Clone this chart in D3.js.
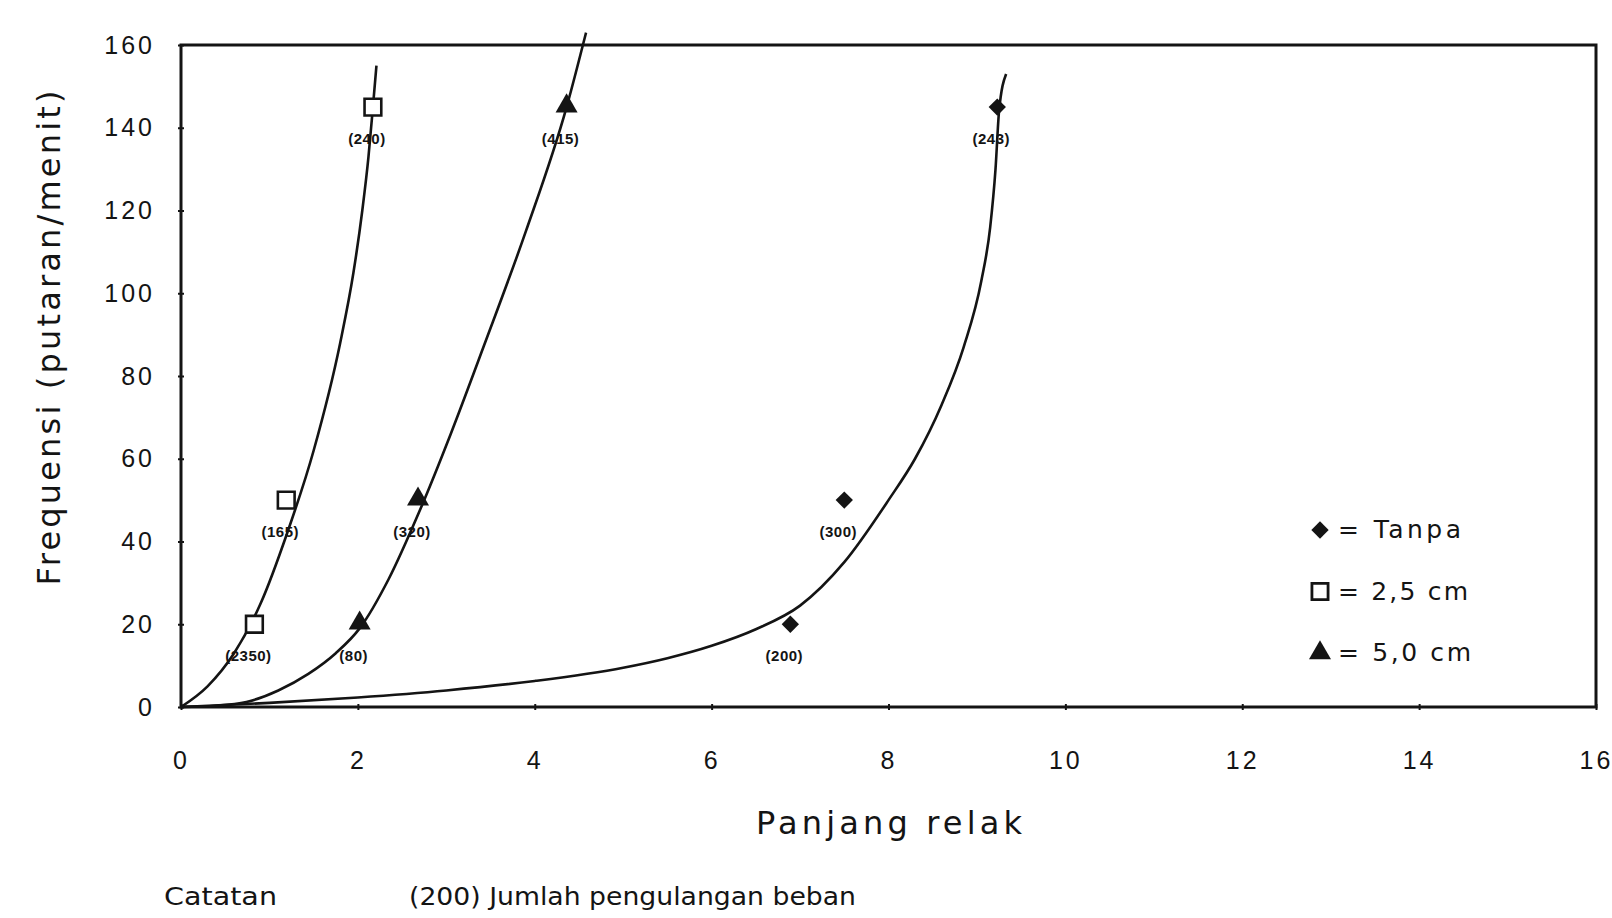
<!DOCTYPE html>
<html>
<head>
<meta charset="utf-8">
<script src="https://cdnjs.cloudflare.com/ajax/libs/d3/7.8.5/d3.min.js"></script>
<style>
    body { margin: 0; background: #fff; }
    text { fill: #141414; }
</style>
</head>
<body>
<div id="chart"></div>
<script>
// tick values on both axes
const xTicks = [0, 2, 4, 6, 8, 10, 12, 14, 16];
const yTicks = [0, 20, 40, 60, 80, 100, 120, 140, 160];

// measured points (x = panjang retak, y = frekuensi) and their labels
const tanpaX = [6.89, 7.5, 9.23];
const tanpaY = [20, 50, 145];
const tanpaLabels = ["(200)", "(300)", "(243)"];

const cm25X = [0.83, 1.19, 2.17];
const cm25Y = [20, 50, 145];
const cm25Labels = ["(2350)", "(165)", "(240)"];

const cm50X = [2.02, 2.68, 4.36];
const cm50Y = [20, 50, 145];
const cm50Labels = ["(80)", "(320)", "(415)"];

// trend curves
const tanpaCurveX = [0, 1, 2, 3, 4, 5, 5.5, 6, 6.5, 7, 7.5, 8, 8.3, 8.6, 8.85, 9.05, 9.15, 9.21, 9.25, 9.33];
const tanpaCurveY = [0, 1, 2.3, 4, 6.3, 9.5, 11.8, 14.8, 18.8, 24.5, 35, 50, 60, 73, 87, 103, 116, 130, 144, 153];

const cm25CurveX = [0, 0.3, 0.6, 0.9, 1.2, 1.5, 1.8, 1.95, 2.05, 2.12, 2.17, 2.21];
const cm25CurveY = [0, 5, 13, 25, 42, 62, 88, 105, 120, 133, 145, 155];

const cm50CurveX = [0, 0.4, 0.74, 1.1, 1.44, 1.75, 2.02, 2.35, 2.69, 3.05, 3.42, 3.9, 4.36, 4.58];
const cm50CurveY = [0, 0.3, 1.2, 4, 8, 13, 19, 31, 47, 66, 87, 115, 145, 163];

const legendNames = ["= Tanpa", "= 2,5 cm", "= 5,0 cm"];

// set the dimensions and margins of the graph
const W = 1612, H = 918;
const margin = { top: 45, right: 16, bottom: 211, left: 181 },
    width = W - margin.left - margin.right,
    height = H - margin.top - margin.bottom;

const svg = d3.select("#chart")
    .append("svg")
    .attr("width", W)
    .attr("height", H)
    .append("g")
    .attr("transform", `translate(${margin.left},${margin.top})`);

const x = d3.scaleLinear().domain([0, 16]).range([0, width]);
const y = d3.scaleLinear().domain([0, 160]).range([height, 0]);

// Y axis
const yAxis = svg.append("g")
    .call(d3.axisLeft(y).tickValues(yTicks).tickSize(4).tickPadding(22));
yAxis.selectAll("text")
    .attr("font-family", "Liberation Sans, Arial, sans-serif")
    .attr("font-size", 25)
    .attr("letter-spacing", 3)
    .attr("fill", "#141414");
yAxis.selectAll(".tick line").attr("x1", -3).attr("x2", 3).attr("stroke", "#141414").attr("stroke-width", 2);
yAxis.select(".domain").remove();

// X axis
const xAxis = svg.append("g")
    .attr("transform", `translate(0, ${height})`)
    .call(d3.axisBottom(x).tickValues(xTicks).tickSize(4).tickPadding(40));
xAxis.selectAll("text")
    .attr("font-family", "Liberation Sans, Arial, sans-serif")
    .attr("font-size", 25)
    .attr("letter-spacing", 3)
    .attr("fill", "#141414");
xAxis.selectAll(".tick line").attr("y1", -3).attr("y2", 3).attr("stroke", "#141414").attr("stroke-width", 2);
xAxis.select(".domain").remove();

// plot frame
svg.append("rect")
    .attr("x", 0).attr("y", 0)
    .attr("width", width).attr("height", height)
    .attr("fill", "none")
    .attr("stroke", "#141414")
    .attr("stroke-width", 3);

// trend curves
const line = d3.line()
    .x(d => x(d[0]))
    .y(d => y(d[1]))
    .curve(d3.curveMonotoneX);

[[tanpaCurveX, tanpaCurveY], [cm25CurveX, cm25CurveY], [cm50CurveX, cm50CurveY]].forEach(c => {
    svg.append("path")
        .datum(d3.zip(c[0], c[1]))
        .attr("d", line)
        .attr("fill", "none")
        .attr("stroke", "#141414")
        .attr("stroke-width", 2.6);
});

// markers
const diamond = d3.symbol().type(d3.symbolSquare).size(150);
const square = d3.symbol().type(d3.symbolSquare).size(280);
const triangle = d3.symbol().type(d3.symbolTriangle).size(210);

function drawSeries(xs, ys, labels, kind) {
    const pts = d3.zip(xs, ys, labels);
    const g = svg.append("g");
    const m = g.selectAll(".pt")
        .data(pts)
        .enter().append("path")
        .attr("class", "pt");
    if (kind == "diamond") {
        m.attr("d", diamond)
            .attr("transform", d => `translate(${x(d[0])},${y(d[1])}) rotate(45)`)
            .attr("fill", "#141414");
    } else if (kind == "square") {
        m.attr("d", square)
            .attr("transform", d => `translate(${x(d[0])},${y(d[1])})`)
            .attr("fill", "#fff")
            .attr("stroke", "#141414")
            .attr("stroke-width", 2.6);
    } else {
        m.attr("d", triangle)
            .attr("transform", d => `translate(${x(d[0])},${y(d[1]) - 1})`)
            .attr("fill", "#141414");
    }
    g.selectAll(".lbl")
        .data(pts)
        .enter().append("text")
        .attr("class", "lbl")
        .attr("x", d => x(d[0]) - 6)
        .attr("y", d => y(d[1]) + 37)
        .attr("text-anchor", "middle")
        .attr("font-family", "Liberation Sans, Arial, sans-serif")
        .attr("font-size", 15)
        .attr("font-weight", "bold")
        .attr("letter-spacing", 0.5)
        .text(d => d[2]);
}

drawSeries(tanpaX, tanpaY, tanpaLabels, "diamond");
drawSeries(cm25X, cm25Y, cm25Labels, "square");
drawSeries(cm50X, cm50Y, cm50Labels, "triangle");

// legend
const legend = svg.append("g").attr("transform", `translate(${1320 - margin.left},${530 - margin.top})`);
legendNames.forEach((name, i) => {
    const row = legend.append("g").attr("transform", `translate(0, ${i * 61.5})`);
    if (i == 0) {
        row.append("path").attr("d", diamond).attr("transform", "rotate(45)").attr("fill", "#141414");
    } else if (i == 1) {
        row.append("path").attr("d", d3.symbol().type(d3.symbolSquare).size(260))
            .attr("fill", "#fff").attr("stroke", "#141414").attr("stroke-width", 2.8);
    } else {
        row.append("path").attr("d", triangle).attr("fill", "#141414");
    }
    row.append("text")
        .attr("x", 18)
        .attr("y", 8)
        .attr("font-family", "DejaVu Sans, Verdana, sans-serif")
        .attr("font-size", 25)
        .attr("textLength", [123, 130, 133][i])
        .attr("lengthAdjust", "spacing")
        .text(name);
});

// axis titles
svg.append("text")
    .attr("text-anchor", "middle")
    .attr("transform", `translate(${60 - margin.left},${338 - margin.top}) rotate(-90)`)
    .attr("font-family", "DejaVu Sans, Verdana, sans-serif")
    .attr("font-size", 32)
    .attr("textLength", 495)
    .attr("lengthAdjust", "spacing")
    .text("Frequensi (putaran/menit)");

svg.append("text")
    .attr("text-anchor", "middle")
    .attr("x", 889 - margin.left)
    .attr("y", 834 - margin.top)
    .attr("font-family", "DejaVu Sans, Verdana, sans-serif")
    .attr("font-size", 32)
    .attr("textLength", 266)
    .attr("lengthAdjust", "spacing")
    .text("Panjang relak");

// note under the chart
svg.append("text")
    .attr("x", 164 - margin.left)
    .attr("y", 905 - margin.top)
    .attr("font-family", "DejaVu Sans, Verdana, sans-serif")
    .attr("font-size", 25)
    .attr("textLength", 113)
    .attr("lengthAdjust", "spacingAndGlyphs")
    .text("Catatan");

svg.append("text")
    .attr("x", 409 - margin.left)
    .attr("y", 905 - margin.top)
    .attr("font-family", "DejaVu Sans, Verdana, sans-serif")
    .attr("font-size", 24)
    .attr("textLength", 447)
    .attr("lengthAdjust", "spacingAndGlyphs")
    .text("(200) Jumlah pengulangan beban");
</script>
</body>
</html>
